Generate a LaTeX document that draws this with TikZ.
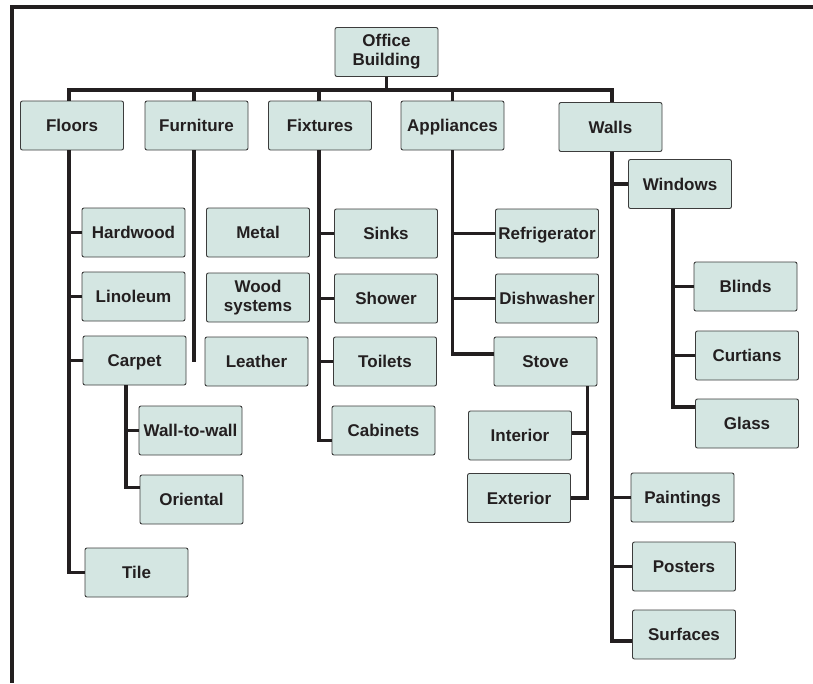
\documentclass[tikz,border=0pt]{standalone}
\usepackage{fontspec}
\setmainfont{Liberation Sans}
\definecolor{boxfill}{RGB}{212,230,226}
\definecolor{boxline}{RGB}{60,60,60}
\definecolor{ink}{RGB}{35,31,32}
\begin{document}
\begin{tikzpicture}[x=1pt,y=-1pt,
  box/.style={draw=boxline,line width=0.9pt,fill=boxfill,rounded corners=2pt,
    minimum width=103pt,minimum height=49pt,inner sep=0pt,align=center,
    text=ink,font=\fontsize{17}{19}\selectfont\bfseries,
    text height=12.2pt,text depth=0pt},
  box2/.style={box,text height=,text depth=},
  conn/.style={draw=ink,line width=3.4pt},
  frame/.style={draw=ink,line width=3.2pt}]
\useasboundingbox (0,0) rectangle (813,683);
% frame
\coordinate (frTR) at (813,7);
\coordinate (frTL) at (12,7);
\coordinate (frBL) at (12,683);
\draw[frame] (frTR) -- (frTL) -- (frBL);
% bus level
\coordinate (bus) at (0,90);
% nodes
\node[box2] (ob) at (386.5,52) {Office\\Building};
\node[box] (floors) at (72,125.5) {Floors};
\node[box] (furn) at (196.5,125.5) {Furniture};
\node[box] (fix) at (320,125.5) {Fixtures};
\node[box] (appl) at (452.5,125.5) {Appliances};
\node[box] (walls) at (610.5,127) {Walls};
% floors
\node[box] (hard) at (133.5,232.5) {Hardwood};
\node[box] (lino) at (133.5,296.5) {Linoleum};
\node[box] (carpet) at (134.5,360.5) {Carpet};
\node[box] (wtw) at (190.5,430.5) {Wall-to-wall};
\node[box] (orient) at (191.5,499.5) {Oriental};
\node[box] (tile) at (136.5,572.5) {Tile};
% furniture
\node[box] (metal) at (258,232.5) {Metal};
\node[box2] (wood) at (258,297.5) {Wood\\systems};
\node[box] (leather) at (256.5,361.5) {Leather};
% fixtures
\node[box] (sinks) at (386,233.5) {Sinks};
\node[box] (shower) at (386,298.5) {Shower};
\node[box] (toilets) at (385,361.5) {Toilets};
\node[box] (cab) at (383.5,430.5) {Cabinets};
% appliances
\node[box] (fridge) at (547,233.5) {Refrigerator};
\node[box] (dish) at (547,298.5) {Dishwasher};
\node[box] (stove) at (545.5,361.5) {Stove};
\node[box] (int) at (520,435.5) {Interior};
\node[box] (ext) at (519,498) {Exterior};
% walls
\node[box] (win) at (680,184) {Windows};
\node[box] (blinds) at (745.5,286.5) {Blinds};
\node[box] (curt) at (747,355.5) {Curtians};
\node[box] (glass) at (747,423.5) {Glass};
\node[box] (paint) at (682.5,497.5) {Paintings};
\node[box] (post) at (684,566.5) {Posters};
\node[box] (surf) at (684,634.5) {Surfaces};
% top bus
\draw[conn] (ob.south) -- (ob.south |- bus);
\draw[conn] ([xshift=-3pt]floors.north) |- ([xshift=1.5pt]walls.north |- bus) -- ([xshift=1.5pt]walls.north);
\draw[conn] ([xshift=-2.5pt]furn.north) -- ([xshift=-2.5pt]furn.north |- bus);
\draw[conn] ([xshift=-1pt]fix.north) -- ([xshift=-1pt]fix.north |- bus);
\draw[conn] (appl.north) -- (appl.north |- bus);
% floors
\coordinate (fst) at ([xshift=-3pt]floors.south);
\draw[conn] (fst) |- (tile.west);
\draw[conn] (hard.west) -- (hard.west -| fst);
\draw[conn] (lino.west) -- (lino.west -| fst);
\draw[conn] (carpet.west) -- (carpet.west -| fst);
\coordinate (cst) at ([xshift=-8.5pt]carpet.south);
\draw[conn] (cst) |- ([yshift=12pt]orient.west);
\draw[conn] (wtw.west) -- (wtw.west -| cst);
% furniture
\coordinate (fust) at ([xshift=-2.5pt]furn.south);
\draw[conn] (fust) -- (fust |- leather.center);
% fixtures
\coordinate (fxst) at ([xshift=-1pt]fix.south);
\draw[conn] (fxst) |- ([yshift=-10pt]cab.west);
\draw[conn] (sinks.west) -- (sinks.west -| fxst);
\draw[conn] (shower.west) -- (shower.west -| fxst);
\draw[conn] (toilets.west) -- (toilets.west -| fxst);
% appliances
\draw[conn] (appl.south) |- ([yshift=7.5pt]stove.west);
\draw[conn] (fridge.west) -- (fridge.west -| appl.south);
\draw[conn] (dish.west) -- (dish.west -| appl.south);
\coordinate (sst) at ([xshift=-10pt]stove.south east);
\draw[conn] (sst) |- (ext.east);
\draw[conn] ([yshift=2.5pt]int.east) -- ([yshift=2.5pt]int.east -| sst);
% walls
\coordinate (wst) at ([xshift=1.5pt]walls.south);
\draw[conn] (wst) |- ([yshift=-6.5pt]surf.west);
\draw[conn] (win.west) -- (win.west -| wst);
\draw[conn] (paint.west) -- (paint.west -| wst);
\draw[conn] (post.west) -- (post.west -| wst);
\coordinate (wnst) at ([xshift=-7pt]win.south);
\draw[conn] (wnst) |- ([yshift=16.5pt]glass.west);
\draw[conn] (blinds.west) -- (blinds.west -| wnst);
\draw[conn] (curt.west) -- (curt.west -| wnst);
\end{tikzpicture}
\end{document}
